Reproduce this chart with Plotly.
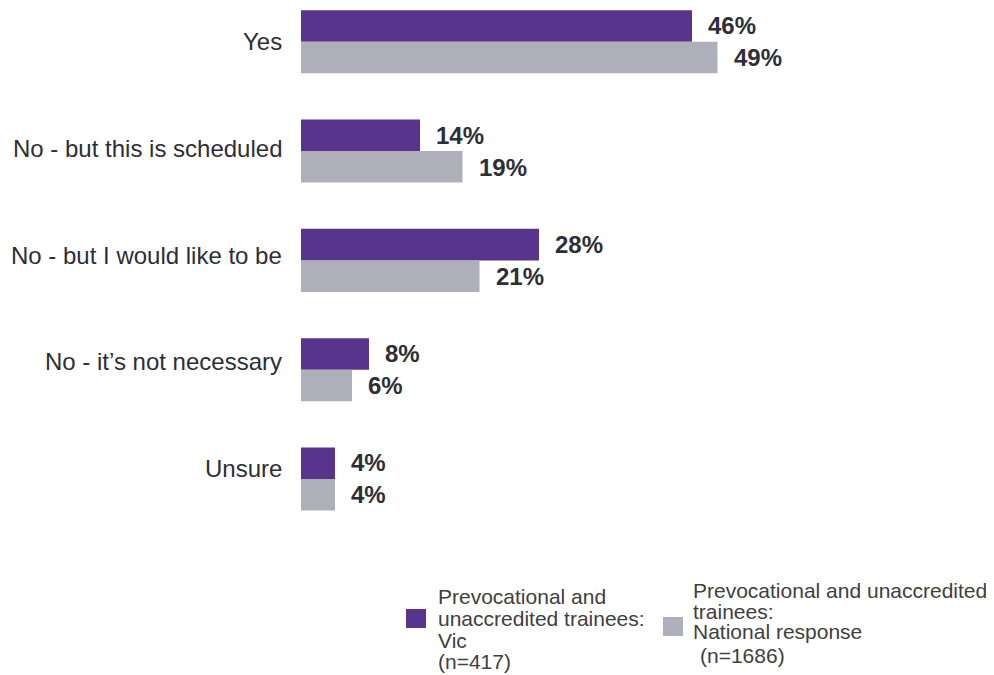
import plotly.graph_objects as go

# ответы на вопрос
categories = ["Yes", "No - but this is scheduled", "No - but I would like to be",
              "No - it\u2019s not necessary", "Unsure"]
vic_values = [46, 14, 28, 8, 4]
national_values = [49, 19, 21, 6, 4]
vic_lines = ["Prevocational and", "unaccredited trainees:", "Vic", "(n=417)"]
national_lines = ["Prevocational and unaccredited", "trainees:", "National response", "(n=1686)"]

purple = "#58348c"
grey = "#afafbb"
text_color = "#2e2e36"
legend_color = "#404040"

W, H = 994, 675
L, T, PW, PH = 293, 1, 680, 536


# пиксели -> координаты paper
def px_x(px):
    return (px - L) / PW


def px_y(py):
    return (T + PH - py) / PH


fig = go.Figure()
fig.add_trace(go.Bar(y=categories, x=vic_values, name="Vic", orientation="h",
                     marker=dict(color=purple, line=dict(width=0)), showlegend=False))
fig.add_trace(go.Bar(y=categories, x=national_values, name="National", orientation="h",
                     marker=dict(color=grey, line=dict(width=0)), showlegend=False))

# подписи значений
for cat, v, n in zip(categories, vic_values, national_values):
    fig.add_annotation(x=v, y=cat, text=f"<b>{v}%</b>", showarrow=False,
                       xanchor="left", xshift=14, yshift=16,
                       font=dict(size=24, color=text_color))
    fig.add_annotation(x=n, y=cat, text=f"<b>{n}%</b>", showarrow=False,
                       xanchor="left", xshift=14, yshift=-16,
                       font=dict(size=24, color=text_color))

# подписи категорий (в оригинале шаг чуть меньше шага столбцов)
for i, cat in enumerate(categories):
    fig.add_annotation(xref="paper", yref="paper", x=px_x(276), y=px_y(33.5 + i * 106.75),
                       text=cat, showarrow=False, xanchor="right", yanchor="middle",
                       font=dict(size=24, color=text_color))

# легенда вручную
legend_items = [
    (purple, vic_lines, (398, 601), 428, [588, 610, 632, 653], [0, 0, 0, 0]),
    (grey, national_lines, (655, 609), 683, [582, 603, 623, 647], [0, 0, 0, 7]),
]
for color, lines, (sx, sy), tx, ys, dx in legend_items:
    fig.add_shape(type="rect", xref="paper", yref="paper",
                  x0=px_x(sx), x1=px_x(sx + 20), y0=px_y(sy), y1=px_y(sy + 19),
                  fillcolor=color, line=dict(width=0))
    for line, y, d in zip(lines, ys, dx):
        fig.add_annotation(xref="paper", yref="paper", x=px_x(tx + d), y=px_y(y),
                           text=line, showarrow=False, xanchor="left", yanchor="middle",
                           font=dict(size=21, color=legend_color))

fig.update_layout(
    width=W, height=H,
    margin=dict(l=L, r=W - L - PW, t=T, b=H - T - PH, autoexpand=False),
    plot_bgcolor="white", paper_bgcolor="white",
    font=dict(family="Arial", size=24, color=text_color),
    barmode="group", bargap=0.423, bargroupgap=0,
    xaxis=dict(range=[0, 80], visible=False),
    yaxis=dict(range=[4.604, -0.3], showgrid=False, showline=False, zeroline=False,
               automargin=False, showticklabels=False),
    showlegend=False,
)

fig.write_html("out.html")
